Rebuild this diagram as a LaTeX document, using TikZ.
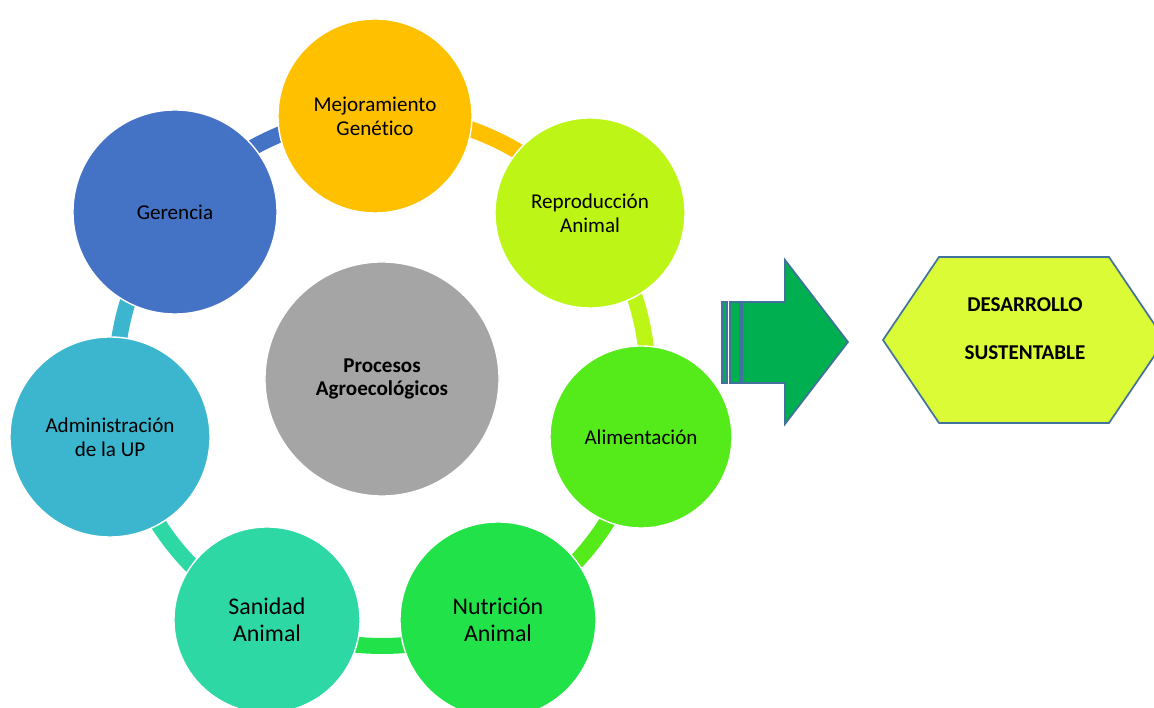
\documentclass[tikz,border=0pt]{standalone}
\usepackage{fontspec}
\setmainfont{Carlito}[Ligatures=NoCommon]
\usepackage{tikz}
\usetikzlibrary{arrows.meta,positioning}
\definecolor{gold}{HTML}{FFC000}
\definecolor{lime}{HTML}{BDF516}
\definecolor{leaf}{HTML}{55EA1A}
\definecolor{grass}{HTML}{22E24A}
\definecolor{mint}{HTML}{2ED8A5}
\definecolor{teal}{HTML}{3BB6CE}
\definecolor{steel}{HTML}{4472C4}
\definecolor{stone}{HTML}{A5A5A5}
\definecolor{arrowgreen}{HTML}{00B050}
\definecolor{edge}{HTML}{41719C}
\definecolor{chart}{HTML}{DAFB36}

\tikzset{
  stage/.style={circle,draw=white,line width=1pt,inner sep=0pt,align=center,
    font=\fontsize{15}{17}\selectfont},
  bigstage/.style={stage,font=\fontsize{17}{19}\selectfont},
  ring/.style={line width=0.4cm},
  outline/.style={draw=edge,line width=1.2pt}
}

\begin{document}
\begin{tikzpicture}[x=0.025cm,y=0.025cm,>=Latex]
  \clip (0,0) rectangle (1154,708);
  \coordinate (ctr) at (382,328);
  % ring pieces, each in the colour of the circle it leaves
  \foreach \a/\c in {90/gold,38.57/lime,-12.86/leaf,-64.29/grass,-115.71/mint,-167.14/teal,-218.57/steel}
    \draw[ring,\c] (ctr) ++(\a:266) arc[start angle=\a,end angle=\a-51.43,radius=266];

  \node[stage,fill=stone,minimum size=5.85cm,font=\fontsize{15}{17}\selectfont\bfseries]
    (proc) at (382,329) {Procesos\\Agroecológicos};
  \node[stage,fill=gold,minimum size=4.85cm] (mejora) at (375,592) {Mejoramiento\\Genético};
  \node[stage,fill=lime,minimum size=4.75cm] (repro) at (590,495) {Reproducción\\Animal};
  \node[stage,fill=leaf,minimum size=4.55cm] (alim) at (641,271) {Alimentación};
  \node[bigstage,fill=grass,minimum size=4.9cm] (nutri) at (498,88) {Nutrición\\Animal};
  \node[bigstage,fill=mint,minimum size=4.65cm] (sanid) at (267,88) {Sanidad\\Animal};
  \node[stage,fill=teal,minimum size=5cm] (admin) at (110,271) {Administración\\de la UP};
  \node[stage,fill=steel,minimum size=5.1cm] (geren) at (175,496) {Gerencia};

  % striped block arrow
  \filldraw[outline,fill=arrowgreen] (722,325) rectangle (727,406);
  \filldraw[outline,fill=arrowgreen] (730,325) rectangle (740,406);
  \filldraw[outline,fill=arrowgreen] (742,325) -- (742,406) -- (785,406) -- (785,448)
    -- (848,366) -- (785,284) -- (785,325) -- cycle;

  % goal
  \filldraw[outline,fill=chart] (883,368) -- (939,451) -- (1109,451) -- (1165,368)
    -- (1109,285) -- (939,285) -- cycle;
  \node[align=center,font=\fontsize{15}{18}\selectfont\bfseries] (meta) at (1025,379)
    {DESARROLLO\\[16pt]SUSTENTABLE};
\end{tikzpicture}
\end{document}
